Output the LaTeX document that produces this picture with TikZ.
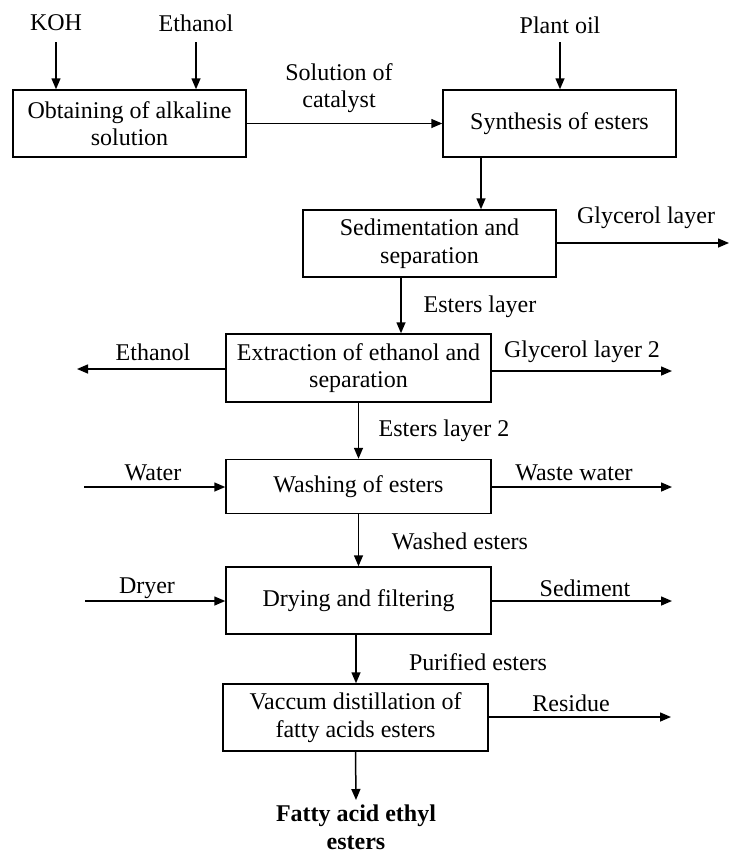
\documentclass[tikz,border=0pt]{standalone}
\usepackage{fontspec}
\setmainfont{Liberation Serif}
\usetikzlibrary{arrows.meta}
\begin{document}
\begin{tikzpicture}[x=1pt,y=-1pt,
  every node/.style={font=\fontsize{24}{27.5}\selectfont, inner sep=0pt},
  proc/.style={draw, line width=1.5pt, align=center, minimum height=67pt},
  lbl/.style={align=center},
  flow/.style={line width=1.5pt, -{Triangle[length=11pt,width=9pt]}}]
\useasboundingbox (0,0) rectangle (729,854);
% process boxes
\node[proc, minimum width=233pt] (b1) at (129.5,123.5) {Obtaining of alkaline\\solution};
\node[proc, minimum width=233pt] (b2) at (559.5,123.5) {Synthesis of esters};
\node[proc, minimum width=253pt] (b3) at (429.5,243.5) {Sedimentation and\\separation};
\node[proc, minimum width=265pt, minimum height=68pt] (b4) at (358.5,368) {Extraction of ethanol and\\separation};
\node[proc, minimum width=265pt, minimum height=54pt] (b5) at (358.5,486.5) {Washing of esters};
\node[proc, minimum width=265pt] (b6) at (358.5,600.5) {Drying and filtering};
\node[proc, minimum width=265pt] (b7) at (355.5,717.5) {Vaccum distillation of\\fatty acids esters};
% labels
\node[lbl] (koh) at (56,23) {KOH};
\node[lbl] (eth1) at (196,23) {Ethanol};
\node[lbl] (oil) at (560,25) {Plant oil};
\node[lbl] (cat) at (339,88) {Solution of\\catalyst};
\node[lbl] (gly) at (646,218) {Glycerol layer};
\node[lbl] (estl) at (480,307) {Esters layer};
\node[lbl] (eth2) at (153,352) {Ethanol};
\node[lbl] (gly2) at (582,352) {Glycerol layer 2};
\node[lbl] (estl2) at (444,431) {Esters layer 2};
\node[lbl] (water) at (153,473) {Water};
\node[lbl] (waste) at (574,473) {Waste water};
\node[lbl] (washed) at (460,541) {Washed esters};
\node[lbl] (dryer) at (147,588) {Dryer};
\node[lbl] (sed) at (585,588) {Sediment};
\node[lbl] (pur) at (478,662) {Purified esters};
\node[lbl] (res) at (571,703) {Residue};
\node[lbl, font=\bfseries\fontsize{24}{28}\selectfont] (fame) at (356,827) {Fatty acid ethyl\\esters};
% free ends
\coordinate (kohS) at (56,42);
\coordinate (eth1S) at (196,42);
\coordinate (oilS) at (560,42);
\coordinate (glyE) at (729,243);
\coordinate (eth2E) at (77,369);
\coordinate (gly2E) at (672,371);
\coordinate (waterS) at (84,487);
\coordinate (wasteE) at (672,487);
\coordinate (dryerS) at (85,601);
\coordinate (sedE) at (672,601);
\coordinate (resE) at (671,717);
\coordinate (fameN) at (356,800);
% connectors
\draw[flow] (kohS) -- (kohS |- b1.north);
\draw[flow] (eth1S) -- (eth1S |- b1.north);
\draw[flow] (oilS) -- (oilS |- b2.north);
\draw[flow] (b1.east) -- (b2.west);
\draw[flow] (481,0 |- b2.south) -- (481,0 |- b3.north);
\draw[flow] (b3.east |- glyE) -- (glyE);
\draw[flow] (401,0 |- b3.south) -- (401,0 |- b4.north);
\draw[flow] (b4.west |- eth2E) -- (eth2E);
\draw[flow] (b4.east |- gly2E) -- (gly2E);
\draw[flow] (b4.south) -- (b5.north);
\draw[flow] (waterS) -- (b5.west |- waterS);
\draw[flow] (b5.east |- wasteE) -- (wasteE);
\draw[flow] (b5.south) -- (b6.north);
\draw[flow] (dryerS) -- (b6.west |- dryerS);
\draw[flow] (b6.east |- sedE) -- (sedE);
\draw[flow] (fameN |- b6.south) -- (fameN |- b7.north);
\draw[flow] (b7.east |- resE) -- (resE);
\draw[flow] (b7.south) -- (fameN);
\end{tikzpicture}
\end{document}
